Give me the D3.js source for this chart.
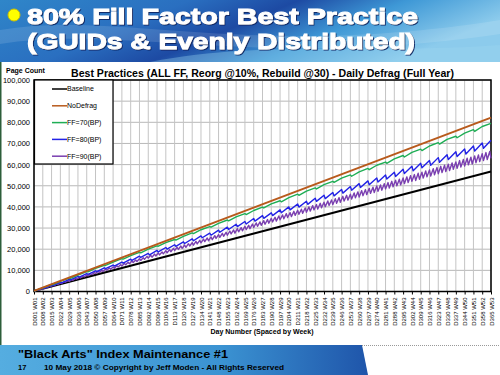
<!DOCTYPE html>
<html lang="en">
<head>
<meta charset="UTF-8">
<title>80% Fill Factor Best Practice</title>
<script src="https://d3js.org/d3.v7.min.js"></script>
<style>
  body { margin: 0; background: #fff; }
  svg { display: block; font-family: "Liberation Sans", Arial, sans-serif; }
</style>
</head>
<body>
<svg id="chart" width="500" height="375"></svg>
<script>
// ---- data ----
const tickDays = [1,8,15,22,29,36,43,50,57,64,71,78,85,92,99,106,113,120,127,134,141,148,155,162,169,
  176,183,190,197,204,211,218,225,232,239,246,253,260,267,274,281,288,295,302,309,316,323,330,337,344,351,358,365];
const yTicks = [0,10000,20000,30000,40000,50000,60000,70000,80000,90000,100000];

const baselineDays = [1, 365];
const baselineVals = [200, 56700];
const noDefragDays = [1, 365];
const noDefragVals = [300, 82200];

// FF=70 on tickDays, small dip the day after every second week
const ff70Vals = [200,1700,3300,4800,6300,7800,9400,10900,12400,13900,15500,17000,18500,20000,21600,23100,
  24600,26100,27700,29200,30700,32200,33800,35300,36800,38300,39900,41400,42900,44400,46000,47500,49000,
  50500,52100,53600,55100,56600,58200,59700,61200,62700,64300,65800,67300,68800,70400,71900,73400,74900,
  76500,78000,79500];
const ff70Trough = [null,null,3250,null,6200,null,9300,null,12300,null,15300,null,18300,null,21400,null,
  24300,null,27400,null,30400,null,33400,null,36400,null,39500,null,42400,null,45500,null,48500,null,
  51600,null,54500,null,57600,null,60600,null,63600,null,66600,null,69700,null,72700,null,75700,null,null];

// FF=80: value on each tickDay before the defrag, and the day after
const ff80Peak = [200,1600,2900,4300,5700,7100,8400,9800,11200,12500,13900,15300,16700,18000,19400,20800,
  22100,23500,24900,26300,27600,29000,30400,31800,33100,34500,35900,37200,38600,40000,41400,42700,44100,
  45500,46800,48200,49600,51000,52300,53700,55100,56400,57800,59200,60600,61900,63300,64700,66100,67400,
  68800,70200,71500];
const ff80Trough = [null,1500,2800,4100,5500,6800,8100,9400,10800,12000,13400,14700,16100,17300,18700,20000,
  21300,22700,24000,25400,26600,28000,29300,30700,31900,33300,34600,35900,37200,38600,39900,41200,42600,
  43900,45200,46500,47900,49200,50500,51800,53200,54400,55800,57100,58500,59700,61100,62400,63800,65000,
  66400,67700,null];

// FF=90: defrag roughly every 3 days
const ff90Days = [4,7,10,13,16,19,22,25,28,31,34,37,40,43,46,49,52,55,58,61,64,67,70,73,76,79,82,85,88,91,
  94,97,100,103,106,109,112,115,118,121,124,127,130,133,136,139,142,145,148,151,154,157,160,163,166,169,
  172,175,178,181,184,187,190,193,196,199,202,205,208,211,214,217,220,223,226,229,232,235,238,241,244,247,
  250,253,256,259,262,265,268,271,274,277,280,283,286,289,292,295,298,301,304,307,310,313,316,319,322,325,
  328,331,334,337,340,343,346,349,352,355,358,361,364];
const ff90Peak = [700,1300,1800,2400,2900,3500,4000,4600,5100,5600,6200,6700,7300,7800,8400,8900,9500,10000,
  10600,11100,11600,12200,12700,13300,13800,14400,14900,15500,16000,16600,17100,17700,18200,18700,19300,
  19800,20400,20900,21500,22000,22600,23100,23700,24200,24800,25300,25800,26400,26900,27500,28000,28600,
  29100,29700,30200,30800,31300,31900,32400,32900,33500,34000,34600,35100,35700,36200,36800,37300,37900,
  38400,38900,39500,40000,40600,41100,41700,42200,42800,43300,43900,44400,45000,45500,46000,46600,47100,
  47700,48200,48800,49300,49900,50400,51000,51500,52100,52600,53100,53700,54200,54800,55300,55900,56400,
  57000,57500,58100,58600,59200,59700,60200,60800,61300,61900,62400,63000,63500,64100,64600,65200,65700,66200];
const ff90Trough = [650,1200,1700,2300,2800,3300,3800,4400,4800,5300,5900,6400,6900,7400,8000,8500,9000,9500,
  10100,10500,11000,11600,12100,12600,13100,13700,14200,14700,15200,15800,16200,16800,17300,17800,18300,
  18800,19400,19900,20400,20900,21500,21900,22500,23000,23600,24000,24500,25100,25600,26100,26600,27200,
  27600,28200,28700,29300,29700,30300,30800,31300,31800,32300,32900,33300,33900,34400,35000,35400,36000,
  36500,37000,37500,38000,38600,39000,39600,40100,40700,41100,41700,42200,42800,43200,43700,44300,44700,
  45300,45800,46400,46800,47400,47900,48500,48900,49500,50000,50400,51000,51500,52100,52500,53100,53600,
  54200,54600,55200,55700,56200,56700,57200,57800,58200,58800,59300,59900,60300,60900,61400,61900,62400,62900];

const seriesNames = ["Baseline", "NoDefrag", "FF=70(BP)", "FF=80(BP)", "FF=90(BP)"];
const seriesColors = ["#000000", "#b85a1c", "#1fae55", "#2222e6", "#7a3fb0"];

// ---- layout ----
const svg = d3.select("#chart");
const x = d3.scaleLinear().domain([1, 365]).range([34, 491]);
const y = d3.scaleLinear().domain([0, 100000]).range([291.5, 80]);

const defs = svg.append("defs");
const bg = defs.append("linearGradient").attr("id", "banner").attr("x1", 0).attr("x2", 1).attr("y1", 0).attr("y2", 0.3);
[["0", "#2f86c9"], ["0.35", "#2a6fc0"], ["0.55", "#1d4aa3"], ["0.75", "#3e98d6"], ["1", "#8ccbec"]]
  .forEach(s => bg.append("stop").attr("offset", s[0]).attr("stop-color", s[1]));
const fg = defs.append("linearGradient").attr("id", "footer").attr("x1", 0).attr("x2", 1);
[["0", "#55ade0"], ["0.6", "#3b93d2"], ["1", "#1f55aa"]]
  .forEach(s => fg.append("stop").attr("offset", s[0]).attr("stop-color", s[1]));
defs.append("filter").attr("id", "shadow").attr("x", "-5%").attr("y", "-20%").attr("width", "110%").attr("height", "140%")
  .append("feDropShadow").attr("dx", 1).attr("dy", 1).attr("stdDeviation", 0.6)
  .attr("flood-color", "#0b2260").attr("flood-opacity", 0.9);

// top banner
svg.append("rect").attr("width", 500).attr("height", 62).attr("fill", "url(#banner)");
svg.append("path").attr("d", "M0,30 C120,10 250,60 500,20 L500,34 C260,70 120,24 0,44 Z")
  .attr("fill", "#ffffff").attr("opacity", 0.12);
svg.append("path").attr("d", "M150,62 C260,40 360,55 500,45 L500,62 Z")
  .attr("fill", "#9fd8f2").attr("opacity", 0.35);
svg.append("circle").attr("cx", 14).attr("cy", 15).attr("r", 6).attr("fill", "#ffff00").attr("stroke", "#d0c000");

const titleLines = ["80% Fill Factor Best Practice", "(GUIDs & Evenly Distributed)"];
[[titleLines[0], 23.5, 391], [titleLines[1], 48.5, 388]].forEach(t => {
  svg.append("text").attr("x", 27).attr("y", t[1]).text(t[0])
    .attr("font-size", 22).attr("font-weight", "bold").attr("fill", "#ffffff")
    .attr("stroke", "#ffffff").attr("stroke-width", 0.9).attr("filter", "url(#shadow)")
    .attr("textLength", t[2]).attr("lengthAdjust", "spacingAndGlyphs");
});

// left border of the slide body
svg.append("line").attr("x1", 0.75).attr("x2", 0.75).attr("y1", 62).attr("y2", 345)
  .attr("stroke", "#2d5e3a").attr("stroke-width", 1.5);

// footer
svg.append("path").attr("d", "M0,345 L362,345 L368,375 L0,375 Z").attr("fill", "url(#footer)");
svg.append("line").attr("x1", 362).attr("x2", 500).attr("y1", 345.5).attr("y2", 345.5)
  .attr("stroke", "#999").attr("stroke-dasharray", "1,1");
svg.append("text").attr("x", 18).attr("y", 358).text('"Black Arts" Index Maintenance #1')
  .attr("font-size", 10.5).attr("font-weight", "bold").attr("fill", "#000")
  .attr("textLength", 210).attr("lengthAdjust", "spacingAndGlyphs");
svg.append("text").attr("x", 18).attr("y", 370).text("17")
  .attr("font-size", 7.5).attr("font-weight", "bold");
svg.append("text").attr("x", 44).attr("y", 370).text("10 May 2018 \u00a9 Copyright by Jeff Moden - All Rights Reserved")
  .attr("font-size", 7.5).attr("font-weight", "bold")
  .attr("textLength", 240).attr("lengthAdjust", "spacingAndGlyphs");

// ---- chart ----
const g = svg.append("g");

// gridlines
g.selectAll(".hgrid").data(yTicks).enter().append("line")
  .attr("x1", 34).attr("x2", 491).attr("y1", d => y(d)).attr("y2", d => y(d))
  .attr("stroke", "#b8b8b8").attr("stroke-width", 1);
g.selectAll(".vgrid").data(tickDays).enter().append("line")
  .attr("x1", d => x(d)).attr("x2", d => x(d)).attr("y1", 80).attr("y2", 291.5)
  .attr("stroke", "#c4c4c4").attr("stroke-width", 1);

// axes
const pad3 = d3.format("03"), pad2 = d3.format("02");
const xAxis = g.append("g").attr("transform", "translate(0,291.5)")
  .call(d3.axisBottom(x).tickValues(tickDays).tickSize(3)
    .tickFormat((d, i) => `D${pad3(d)} W${pad2(i + 1)}`));
xAxis.select(".domain").remove();
xAxis.selectAll("text").attr("transform", "rotate(-90)").attr("text-anchor", "end")
  .attr("x", -6).attr("y", 0).attr("dy", "0.35em").attr("font-size", 6)
  .attr("font-family", "Liberation Sans, Arial, sans-serif").attr("fill", "#000");

const yAxis = g.append("g").attr("transform", "translate(34,0)")
  .call(d3.axisLeft(y).tickValues(yTicks).tickSize(0).tickPadding(4).tickFormat(d3.format(",")));
yAxis.select(".domain").remove();
yAxis.selectAll("text").attr("font-size", 7.5)
  .attr("font-family", "Liberation Sans, Arial, sans-serif").attr("fill", "#000");

// plot border
g.append("rect").attr("x", 34).attr("y", 80).attr("width", 457).attr("height", 211.5)
  .attr("fill", "none").attr("stroke", "#000").attr("stroke-width", 1.5);

// series
const line = d3.line().x(d => x(d[0])).y(d => y(d[1]));
const pairs = (days, vals) => days.map((d, i) => [d, vals[i]]);
const saw = (start, days, peak, trough) => {
  const pts = start ? [start] : [];
  days.forEach((d, i) => {
    pts.push([d, peak[i]]);
    if (trough[i] != null) pts.push([d + 1, trough[i]]);
  });
  return pts;
};
const seriesData = [
  pairs(baselineDays, baselineVals),
  pairs(noDefragDays, noDefragVals),
  saw(null, tickDays, ff70Vals, ff70Trough),
  saw([1, 200], tickDays.slice(1), ff80Peak.slice(1), ff80Trough.slice(1)),
  saw([1, 200], ff90Days, ff90Peak, ff90Trough)
];
const drawOrder = [0, 4, 3, 2, 1];
drawOrder.forEach(k => {
  g.append("path").datum(seriesData[k]).attr("d", line)
    .attr("fill", "none").attr("stroke", seriesColors[k]).attr("stroke-width", k < 2 ? 2 : 1.4)
    .attr("stroke-linejoin", "round");
});

// legend
g.append("rect").attr("x", 34.5).attr("y", 80).attr("width", 78.5).attr("height", 84)
  .attr("fill", "#fff").attr("stroke", "#000").attr("stroke-width", 1.2);
seriesNames.forEach((n, i) => {
  const ly = 89 + i * 16.8;
  g.append("line").attr("x1", 52).attr("x2", 67).attr("y1", ly).attr("y2", ly)
    .attr("stroke", seriesColors[i]).attr("stroke-width", 1.5);
  g.append("text").attr("x", 67).attr("y", ly).attr("dy", "0.35em").text(n)
    .attr("font-size", 7);
});

// titles
svg.append("text").attr("x", 71).attr("y", 76.5)
  .text("Best Practices (ALL FF, Reorg @10%, Rebuild @30) - Daily Defrag (Full Year)")
  .attr("font-size", 11).attr("font-weight", "bold")
  .attr("textLength", 383).attr("lengthAdjust", "spacingAndGlyphs");
svg.append("text").attr("x", 6).attr("y", 73).text("Page Count")
  .attr("font-size", 7).attr("font-weight", "bold");
svg.append("text").attr("x", 262).attr("y", 334).attr("text-anchor", "middle")
  .text("Day Number (Spaced by Week)").attr("font-size", 7).attr("font-weight", "bold");
</script>
</body>
</html>
